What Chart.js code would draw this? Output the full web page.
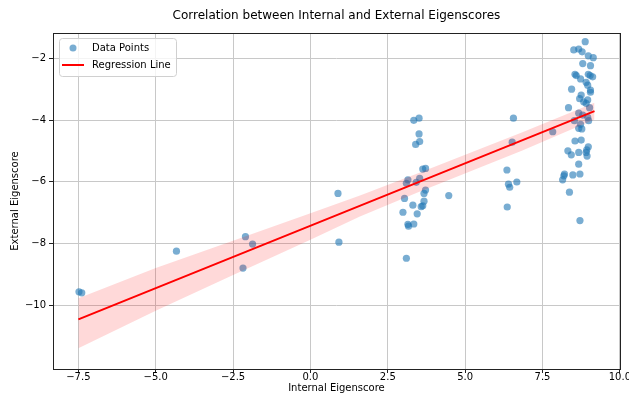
<!DOCTYPE html>
<html>
<head>
<meta charset="utf-8">
<script src="https://cdn.jsdelivr.net/npm/chart.js@4/dist/chart.umd.min.js"></script>
<style>
    html, body { margin: 0; padding: 0; background: #fff; }
    #wrap { width: 629px; height: 398px; }
</style>
</head>
<body>
<div id="wrap"><canvas id="graph" width="629" height="398"></canvas></div>
<script>
// Scatter data
const internalScores = [
    -7.48, -7.39, -4.33, -2.10, -1.87, -2.18, 0.89, 0.92,
    3.34, 3.51, 3.51, 3.40, 3.53, 3.63, 3.72, 3.15, 3.10, 3.53, 3.42, 3.72, 3.67, 3.04, 4.47,
    3.67, 3.31, 3.63, 3.58, 2.99, 3.45, 3.15, 3.17, 3.34, 3.10,
    6.56, 6.52, 7.83, 6.35, 6.40, 6.44, 6.67, 6.36,
    8.88, 8.51, 8.67, 8.78, 8.98, 9.14, 8.80, 9.05, 8.55, 8.59, 8.73, 8.98, 9.04, 9.12,
    8.91, 8.96, 8.44, 9.05, 9.05, 8.75, 8.70, 8.83, 8.96, 8.91, 8.34, 9.02, 8.67, 8.80,
    8.96, 8.99, 8.53, 8.73, 8.77, 8.67, 8.55, 8.75, 8.98, 8.93, 8.32, 8.43, 8.67, 8.91,
    8.94, 8.67, 8.21, 8.19, 8.48, 8.71, 8.15, 8.37, 8.71
];
const externalScores = [
    -9.57, -9.60, -8.25, -7.78, -8.02, -8.80, -6.38, -7.96,
    -4.01, -3.94, -4.45, -4.79, -4.70, -5.59, -5.57, -5.94, -6.05, -5.89, -6.02, -6.27, -6.38, -6.54, -6.45,
    -6.63, -6.76, -6.78, -6.81, -6.99, -7.04, -7.38, -7.44, -7.37, -8.48,
    -3.94, -4.72, -4.38, -5.62, -6.08, -6.18, -6.01, -6.82,
    -1.46, -1.73, -1.70, -1.79, -1.92, -1.98, -2.17, -2.24, -2.52, -2.56, -2.67, -2.52, -2.56, -2.60,
    -2.78, -2.87, -3.00, -3.03, -3.10, -3.19, -3.31, -3.41, -3.35, -3.46, -3.60, -3.60, -3.78, -3.84,
    -3.91, -4.02, -4.02, -4.14, -4.29, -4.27, -4.68, -4.65, -4.87, -4.97, -5.00, -5.13, -5.05, -5.05,
    -5.17, -5.43, -5.75, -5.81, -5.78, -5.75, -5.94, -6.34, -7.26
];

// Regression line end points
const lineX = [-7.5, 9.18];
const lineY = [-10.46, -3.71];

// Confidence band edges
const bandX = [-7.5, -5.0, -2.55, 0.0, 1.6, 3.5, 6.85, 9.18];
const bandLow = [-11.40, -10.18, -9.05, -7.88, -7.13, -6.33, -4.99, -3.98];
const bandHigh = [-9.78, -8.80, -7.93, -7.02, -6.45, -5.72, -4.40, -3.44];

const xTicks = [-7.5, -5.0, -2.5, 0.0, 2.5, 5.0, 7.5, 10.0];
const yTicks = [-10, -8, -6, -4, -2];

const pointColor = 'rgba(31, 119, 180, 0.6)';
const fontFamily = "'DejaVu Sans', sans-serif";

function zip(xs, ys) {
    return xs.map((x, i) => ({ x: x, y: ys[i] }));
}

function minusSign(text) {
    return String(text).replace('-', '\u2212');
}

// Black box round the plot, like matplotlib spines
const framePlugin = {
    id: 'frame',
    afterDatasetsDraw(chart) {
        const { ctx, chartArea: a } = chart;
        ctx.save();
        ctx.strokeStyle = '#222';
        ctx.lineWidth = 1;
        ctx.strokeRect(Math.round(a.left) + 0.5, Math.round(a.top) + 0.5,
            Math.round(a.right - a.left), Math.round(a.bottom - a.top));
        ctx.restore();
    }
};

// Legend drawn inside the plot, top left
const legendBoxPlugin = {
    id: 'legendBox',
    afterDraw(chart) {
        const { ctx, chartArea: a } = chart;
        const left = a.left + 6, top = a.top + 5, w = 117, h = 38;
        ctx.save();
        ctx.fillStyle = 'rgba(255,255,255,0.8)';
        ctx.strokeStyle = '#d0d0d0';
        ctx.lineWidth = 1;
        ctx.beginPath();
        ctx.roundRect(left + 0.5, top + 0.5, w, h, 3);
        ctx.fill();
        ctx.stroke();

        const ds = chart.data.datasets;
        // marker entry
        ctx.fillStyle = pointColor;
        ctx.beginPath();
        ctx.arc(left + 14, top + 10, 3.5, 0, Math.PI * 2);
        ctx.fill();
        // line entry
        ctx.strokeStyle = 'red';
        ctx.lineWidth = 2;
        ctx.beginPath();
        ctx.moveTo(left + 3, top + 27);
        ctx.lineTo(left + 25, top + 27);
        ctx.stroke();

        ctx.fillStyle = '#000';
        ctx.font = '10px ' + fontFamily;
        ctx.textBaseline = 'middle';
        ctx.fillText(ds[0].label, left + 33, top + 10);
        ctx.fillText(ds[3].label, left + 33, top + 27);
        ctx.restore();
    }
};

const ctx = document.getElementById('graph').getContext('2d');
new Chart(ctx, {
    type: 'scatter',
    data: {
        datasets: [
            {
                label: 'Data Points',
                data: zip(internalScores, externalScores),
                backgroundColor: pointColor,
                borderWidth: 0,
                pointRadius: 3.6,
                order: 4
            },
            {
                label: 'CI low',
                data: zip(bandX, bandLow),
                showLine: true,
                borderWidth: 0,
                pointRadius: 0,
                fill: false,
                order: 3
            },
            {
                label: 'CI high',
                data: zip(bandX, bandHigh),
                showLine: true,
                borderWidth: 0,
                pointRadius: 0,
                backgroundColor: 'rgba(255, 0, 0, 0.15)',
                fill: '-1',
                order: 2
            },
            {
                label: 'Regression Line',
                data: zip(lineX, lineY),
                showLine: true,
                borderColor: 'red',
                borderWidth: 2,
                pointRadius: 0,
                fill: false,
                order: 1
            }
        ]
    },
    options: {
        responsive: false,
        animation: false,
        layout: { padding: { left: 0, right: 9, top: 0, bottom: 0 } },
        plugins: {
            legend: { display: false },
            tooltip: { enabled: false },
            title: {
                display: true,
                fullSize: false,
                text: 'Correlation between Internal and External Eigenscores',
                color: '#000',
                font: { family: fontFamily, size: 12, weight: 'normal' },
                padding: { top: 9, bottom: 9.6 }
            }
        },
        scales: {
            x: {
                type: 'linear',
                min: -8.32,
                max: 10.0,
                afterBuildTicks: scale => { scale.ticks = xTicks.map(v => ({ value: v })); },
                afterFit: scale => { scale.height = 29; },
                border: { display: false },
                grid: { color: '#c8c8c8', lineWidth: 1, tickColor: '#222', tickLength: 4 },
                ticks: {
                    color: '#000',
                    padding: -2,
                    maxRotation: 0,
                    font: { family: fontFamily, size: 10 },
                    callback: value => minusSign(Number(value).toFixed(1))
                },
                title: {
                    display: true,
                    text: 'Internal Eigenscore',
                    color: '#000',
                    font: { family: fontFamily, size: 10 },
                    padding: { top: 0, bottom: 3.5 }
                }
            },
            y: {
                type: 'linear',
                min: -12.07,
                max: -1.18,
                afterBuildTicks: scale => { scale.ticks = yTicks.map(v => ({ value: v })); },
                afterFit: scale => { scale.width = 53; },
                border: { display: false },
                grid: { color: '#c8c8c8', lineWidth: 1, tickColor: '#222', tickLength: 4 },
                ticks: {
                    color: '#000',
                    padding: 3,
                    font: { family: fontFamily, size: 10 },
                    callback: value => minusSign(value)
                },
                title: {
                    display: true,
                    text: 'External Eigenscore',
                    color: '#000',
                    font: { family: fontFamily, size: 10 },
                    padding: { top: 9, bottom: 0 }
                }
            }
        }
    },
    plugins: [framePlugin, legendBoxPlugin]
});
</script>
</body>
</html>
